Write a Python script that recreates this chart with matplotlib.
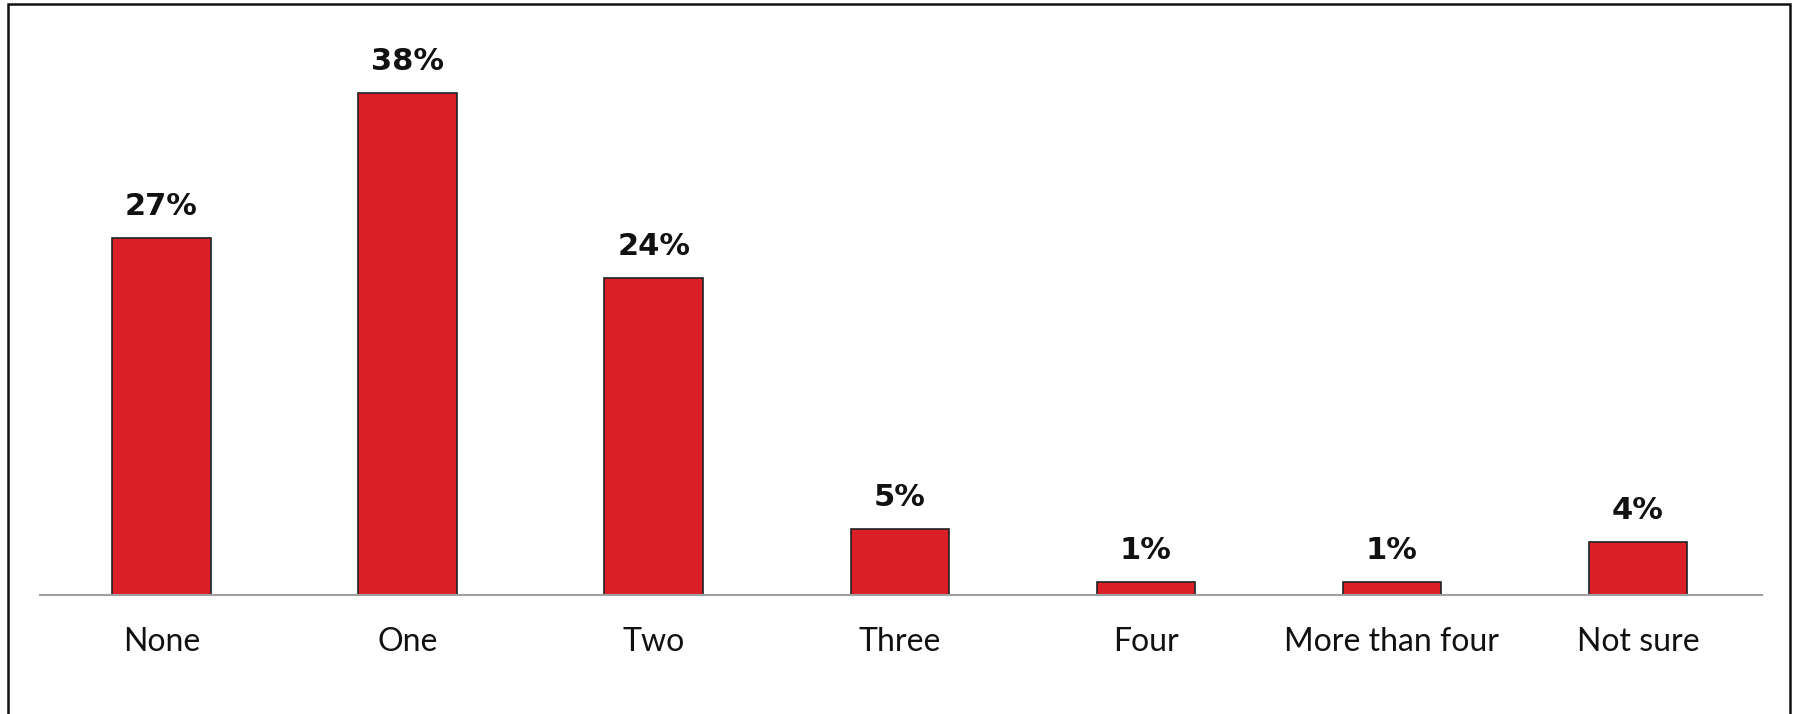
import matplotlib
matplotlib.use("Agg")
import matplotlib.pyplot as plt
from matplotlib.patches import Rectangle

categories = ["None", "One", "Two", "Three", "Four", "More than four", "Not sure"]
values = [27, 38, 24, 5, 1, 1, 4]
labels = ["27%", "38%", "24%", "5%", "1%", "1%", "4%"]

W, H = 1797, 714
dpi = 100
fig = plt.figure(figsize=(W / dpi, H / dpi), dpi=dpi)
plt.rcParams['font.family'] = ['Lato', 'DejaVu Sans']

# axes: baseline at y=595px, line from x=40 to 1762
ax_left, ax_right = 40 / W, 1762 / W
ax_bottom = 1 - 595 / H
ax_top = 1 - 40 / H
ax = fig.add_axes([ax_left, ax_bottom, ax_right - ax_left, ax_top - ax_bottom])

x = list(range(len(categories)))
ax.bar(x, values, width=0.40, color="#DA1F28", edgecolor="#222222", linewidth=1.2, zorder=2)
ax.set_xlim(-0.494, 6.504)
ymax = 555 / 13.22
ax.set_ylim(0, ymax)

for xi, v, lab in zip(x, values, labels):
    ax.annotate(lab, (xi, v), xytext=(0, 12), textcoords="offset points",
                ha="center", va="bottom", fontsize=22, fontweight="bold",
                color="#111111", family=["DejaVu Sans"])

for s in ["top", "right", "left"]:
    ax.spines[s].set_visible(False)
ax.spines["bottom"].set_color("#A0A0A0")
ax.spines["bottom"].set_linewidth(1.5)
ax.set_yticks([])
ax.set_xticks(x)
ax.set_xticklabels(categories, fontsize=23, color="#111111")
ax.tick_params(axis="x", length=0, pad=23)

# outer frame
fig.add_artist(Rectangle((8 / W, -0.05), (1790 - 8) / W, 1.05 - 4 / H,
                         transform=fig.transFigure, fill=False,
                         edgecolor="#111111", linewidth=1.8))

fig.savefig("out.png", dpi=dpi)
